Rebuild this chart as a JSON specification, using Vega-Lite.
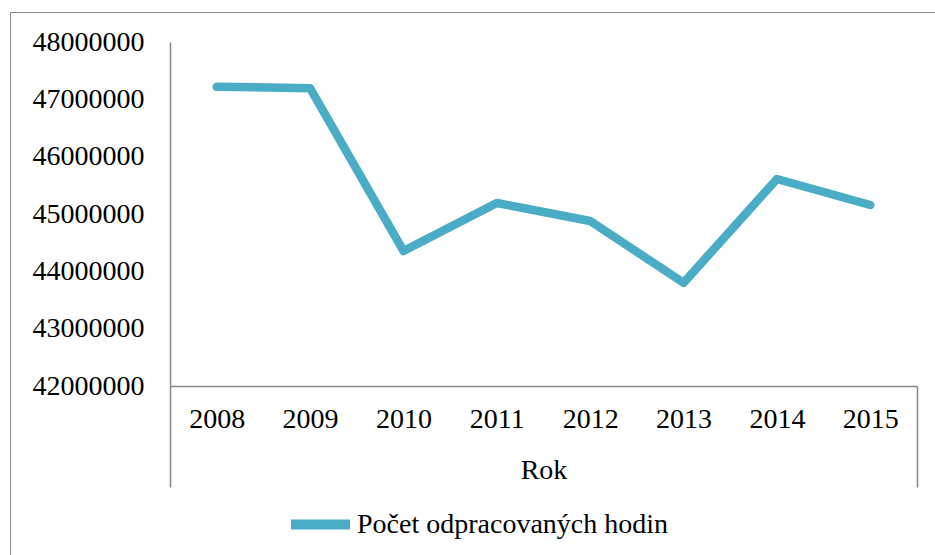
{
  "$schema": "https://vega.github.io/schema/vega-lite/v6.json",
  "width": 747,
  "height": 344,
  "autosize": {"type": "none"},
  "padding": {"left": 170, "top": 42, "right": 18, "bottom": 169},
  "background": "white",
  "config": {
    "view": {"stroke": null},
    "font": "Liberation Serif"
  },
  "data": {
    "values": [
      {"Rok": "2008", "hodiny": 47220000},
      {"Rok": "2009", "hodiny": 47195000},
      {"Rok": "2010", "hodiny": 44355000},
      {"Rok": "2011", "hodiny": 45192000},
      {"Rok": "2012", "hodiny": 44878000},
      {"Rok": "2013", "hodiny": 43800000},
      {"Rok": "2014", "hodiny": 45610000},
      {"Rok": "2015", "hodiny": 45157000}
    ]
  },
  "mark": {"type": "line", "strokeWidth": 8.5, "strokeCap": "round", "strokeJoin": "round"},
  "encoding": {
    "x": {
      "field": "Rok",
      "type": "ordinal",
      "scale": {"paddingInner": 0, "paddingOuter": 0},
      "axis": {
        "title": "Rok",
        "titleFont": "Liberation Serif",
        "titleFontSize": 28,
        "titleFontWeight": "normal",
        "titleColor": "black",
        "titleY": 84,
        "titleBaseline": "middle",
        "labelAngle": 0,
        "labelFont": "Liberation Serif",
        "labelFontSize": 28,
        "labelColor": "black",
        "labelBaseline": "middle",
        "labelPadding": -68,
        "domainColor": "#868686",
        "domainWidth": 1.5,
        "tickBand": "extent",
        "tickSize": 101,
        "tickWidth": 1.5,
        "tickColor": {
          "condition": {"test": "datum.index < 0 || datum.value == '2015'", "value": "#868686"},
          "value": "transparent"
        },
        "grid": false
      }
    },
    "y": {
      "field": "hodiny",
      "type": "quantitative",
      "scale": {"domain": [42000000, 48000000], "nice": false, "zero": false},
      "axis": {
        "title": null,
        "values": [42000000, 43000000, 44000000, 45000000, 46000000, 47000000, 48000000],
        "format": "d",
        "labelFont": "Liberation Serif",
        "labelFontSize": 28,
        "labelColor": "black",
        "labelPadding": 26,
        "ticks": false,
        "grid": false,
        "domainColor": "#868686",
        "domainWidth": 1.5
      }
    },
    "color": {
      "datum": "Počet odpracovaných hodin",
      "scale": {"range": ["#4BACC6"]},
      "legend": {
        "orient": "none",
        "legendX": -160,
        "legendY": -30,
        "padding": 276,
        "strokeColor": "#868686",
        "title": " ",
        "titleFontSize": 1,
        "titlePadding": 201,
        "symbolType": "stroke",
        "symbolSize": 3481,
        "symbolStrokeWidth": 10,
        "labelFont": "Liberation Serif",
        "labelFontSize": 28,
        "labelColor": "black",
        "labelOffset": 2,
        "labelLimit": 0
      }
    }
  }
}
